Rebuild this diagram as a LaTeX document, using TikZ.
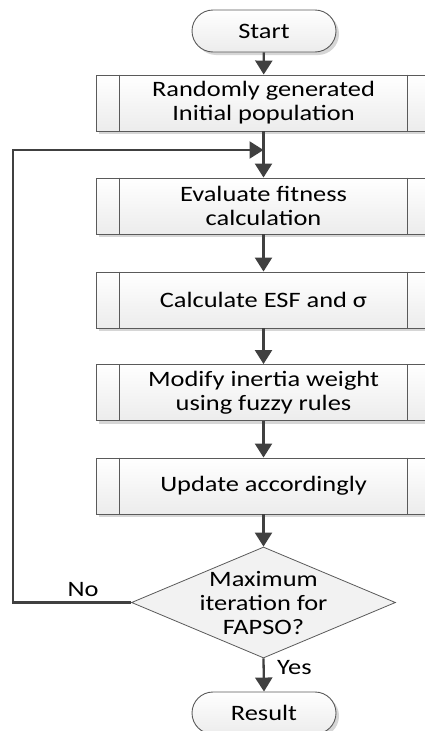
\documentclass[tikz,border=0pt]{standalone}
\usepackage{fontspec}
\setmainfont{Carlito}[FakeStretch=1.2]
\usetikzlibrary{arrows.meta,shapes.geometric,shadows}
\definecolor{lineg}{HTML}{404040}
\definecolor{edgeg}{HTML}{5A5A5A}
\definecolor{fillg}{HTML}{ECECEC}
\definecolor{shadg}{HTML}{D6D6D6}

\begin{document}
\begin{tikzpicture}[x=1pt, y=-1pt,
  font=\fontsize{22}{24}\selectfont,
  boxshadow/.style={drop shadow={shadow xshift=3pt, shadow yshift=-3pt, fill=shadg, opacity=1}},
  terminal/.style={draw=edgeg, line width=0.9pt, rounded corners=21pt,
    minimum width=144pt, minimum height=42pt, top color=white, bottom color=fillg, boxshadow},
  process/.style={draw=edgeg, line width=0.9pt, minimum width=335pt, minimum height=56pt,
    align=center, top color=white, bottom color=fillg, boxshadow},
  decision/.style={diamond, aspect=2.38, draw=edgeg, line width=0.8pt, fill=fillg!70,
    minimum width=264pt, minimum height=111pt, inner sep=-12pt, align=center},
  flow/.style={draw=lineg, line width=2.3pt, -{Triangle[width=17pt,length=14pt]}}
  ]
  \useasboundingbox (0,0) rectangle (424,731);

  \node[terminal] (start) at (264,31) {Start};
  \node[process] (init) at (263.5,103) {Randomly generated\\Initial population};
  \node[process] (eval) at (263.5,206) {Evaluate fitness\\calculation};
  \node[process] (esf) at (263.5,300) {Calculate ESF and σ};
  \node[process] (inert) at (263.5,392.5) {Modify inertia weight\\using fuzzy rules};
  \node[process] (upd) at (263.5,486) {Update accordingly};
  \node[decision] (dec) at (263.5,602.5) {Maximum\\iteration for\\FAPSO?};
  \node[terminal] (result) at (264,713) {Result};

  % side bars of the process boxes
  \foreach \b in {init,eval,esf,inert,upd} {
    \draw[edgeg, line width=0.9pt] ([xshift=24pt]\b.north west) -- ([xshift=24pt]\b.south west);
    \draw[edgeg, line width=0.9pt] ([xshift=-24pt]\b.north east) -- ([xshift=-24pt]\b.south east);
  }

  \coordinate (loopin) at (263.5,150);
  \coordinate (loopbot) at (13,602.5);
  \coordinate (looptop) at (13,150);

  \draw[flow] (start) -- (init);
  \foreach \a/\b in {init/eval,eval/esf,esf/inert,inert/upd,upd/dec} {
    \draw[flow] (\a) -- (\b);
  }
  \draw[flow] (dec.south) -- node[pos=0.28, right=9pt] (yes) {Yes} (result.north);
  \draw[flow] (dec.west) -- (loopbot) -- (looptop) -- (loopin);
  \node (no) at (83,590) {No};
\end{tikzpicture}
\end{document}
